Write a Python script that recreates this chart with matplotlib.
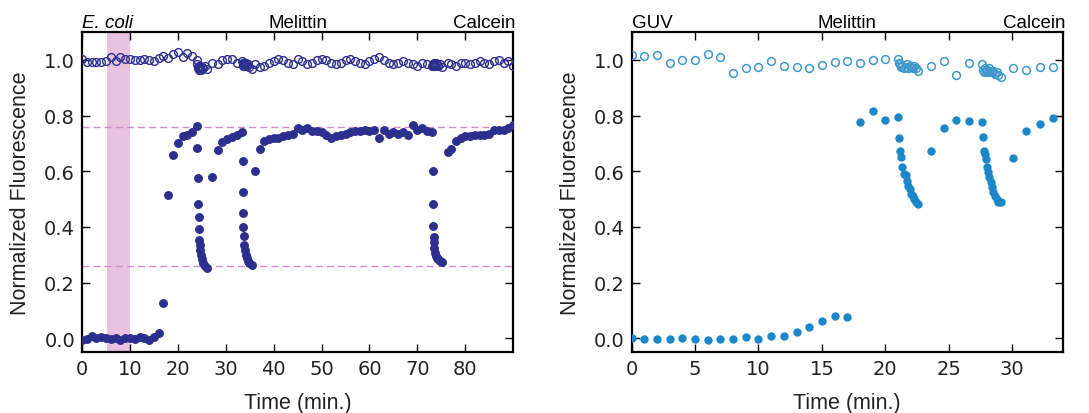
import matplotlib
matplotlib.use("Agg")
import matplotlib.pyplot as plt
import numpy as np

# ---- E. coli panel (left) ----
t_ecoli = [0, 1, 2, 3, 4, 5, 6, 7, 8, 9, 10, 11, 12, 13, 14, 15, 16,
           17, 18, 19, 20, 21, 22, 23, 24,
           24.1, 24.22, 24.3, 24.36, 24.42, 24.5, 24.58, 24.66, 24.8, 25.0, 25.3, 25.65, 26.05,
           27.2, 28.3, 29.3, 30.3, 31.3, 32.3, 33.3,
           33.5, 33.55, 33.62, 33.7, 33.78, 33.88, 34.0, 34.15, 34.35, 34.6, 34.95, 35.4,
           36.1, 37.1, 38, 39, 40, 41, 42, 43, 44, 45, 46, 47, 48, 49, 50, 51, 52, 53, 54, 55,
           56, 57, 58, 59, 60, 61, 62, 63, 64, 65, 66, 67, 68, 69, 70, 71, 72, 73,
           73.2, 73.25, 73.3, 73.38, 73.46, 73.55, 73.66, 73.8, 74.0, 74.3, 74.7, 75.2,
           76.4, 77.0, 78.1, 79.1, 80, 81, 82, 83, 84, 85, 86, 87, 88, 89, 90]

calcein_ecoli = [-0.005, -0.003, 0.008, 0.0, 0.003, 0.0, -0.004, 0.0, -0.005, 0.002, 0.0, -0.003, 0.004, 0.0, -0.005, 0.006, 0.018,
                 0.125, 0.515, 0.658, 0.70, 0.728, 0.73, 0.74, 0.764,
                 0.685, 0.576, 0.483, 0.435, 0.393, 0.353, 0.335, 0.317, 0.299, 0.284, 0.272, 0.26, 0.253,
                 0.58, 0.677, 0.706, 0.715, 0.722, 0.73, 0.742,
                 0.636, 0.527, 0.45, 0.40, 0.366, 0.336, 0.317, 0.299, 0.287, 0.277, 0.27, 0.264,
                 0.60, 0.68, 0.71, 0.715, 0.72, 0.72, 0.725, 0.73, 0.735, 0.755, 0.75, 0.755, 0.745, 0.745, 0.74, 0.73, 0.72, 0.725, 0.73, 0.735,
                 0.74, 0.745, 0.745, 0.75, 0.745, 0.75, 0.72, 0.75, 0.735, 0.74, 0.735, 0.74, 0.73, 0.765, 0.75, 0.755, 0.745, 0.74,
                 0.60, 0.483, 0.405, 0.362, 0.345, 0.326, 0.308, 0.296, 0.29, 0.283, 0.278, 0.275,
                 0.67, 0.68, 0.71, 0.72, 0.725, 0.725, 0.73, 0.73, 0.73, 0.735, 0.75, 0.75, 0.75, 0.755, 0.765]

melittin_ecoli = [1.002, 0.993, 0.993, 0.994, 0.993, 0.996, 1.01, 0.995, 1.01, 1.003, 1.002, 1.0, 1.0, 1.004, 1.0, 0.996, 1.006,
                  1.015, 1.008, 1.02, 1.03, 1.01, 1.025, 1.015, 1.0,
                  0.985, 0.975, 0.97, 0.98, 0.965, 0.975, 0.97, 0.98, 0.965, 0.975, 0.97, 0.98, 0.968,
                  0.99, 0.985, 1.0, 1.005, 1.003, 0.99, 0.995,
                  0.985, 0.99, 0.98, 0.985, 0.99, 0.978, 0.985, 0.99, 0.98, 0.985, 0.975, 0.968,
                  0.985, 0.975, 0.98, 0.99, 0.995, 1.005, 1.0, 0.99, 0.985, 1.005, 0.995, 0.985, 0.99, 1.0, 1.005, 1.0, 0.99, 0.985, 0.99, 1.0,
                  1.005, 0.995, 0.99, 0.985, 0.995, 1.005, 1.01, 1.0, 0.99, 0.985, 0.99, 0.995, 0.99, 0.985, 0.98, 0.99, 0.985, 0.98,
                  0.985, 0.98, 0.985, 0.99, 0.98, 0.985, 0.978, 0.99, 0.985, 0.98, 0.985, 0.975,
                  0.99, 0.985, 0.98, 0.99, 0.99, 0.985, 0.99, 0.995, 0.99, 0.985, 0.995, 1.0, 0.99, 0.995, 0.98]

band_ecoli = (5.2, 10.1)
level_lines = [0.76, 0.26]

# ---- GUV panel (right) ----
t_guv = [0, 1, 2, 3, 4, 5, 6, 7, 8, 9, 10, 11, 12, 13, 14, 15, 16, 17, 18, 19, 20, 21,
         21.08, 21.13, 21.2, 21.33, 21.44, 21.64, 21.72, 21.82, 21.92, 22.03, 22.15, 22.28, 22.41, 22.54,
         23.6, 24.6, 25.6, 26.6, 27.6,
         27.68, 27.78, 27.85, 27.93, 28.0, 28.1, 28.2, 28.3, 28.4, 28.53, 28.67, 28.77, 28.9, 29.1,
         30.1, 31.1, 32.2, 33.2]

calcein_guv = [0.0, -0.003, -0.002, -0.002, 0.0, -0.001, -0.005, -0.004, -0.002, 0.003, -0.001, 0.008, 0.008, 0.022,
               0.04, 0.063, 0.079, 0.078, 0.776, 0.816, 0.785, 0.795,
               0.719, 0.672, 0.65, 0.617, 0.59, 0.586, 0.566, 0.548, 0.536, 0.52, 0.512, 0.502, 0.49, 0.482,
               0.672, 0.755, 0.785, 0.78, 0.778,
               0.724, 0.674, 0.662, 0.644, 0.617, 0.598, 0.578, 0.56, 0.542, 0.526, 0.512, 0.5, 0.49, 0.49,
               0.647, 0.745, 0.77, 0.79]

melittin_guv = [1.018, 1.013, 1.016, 0.99, 1.0, 1.0, 1.02, 1.01, 0.952, 0.97, 0.976, 0.998, 0.98, 0.976,
                0.97, 0.982, 0.992, 0.998, 0.99, 1.001, 1.004, 1.004,
                0.99, 0.985, 0.975, 0.98, 0.97, 0.975, 0.985, 0.97, 0.98, 0.975, 0.97, 0.978, 0.972, 0.962,
                0.98, 0.995, 0.946, 0.99, 0.987,
                0.965, 0.955, 0.97, 0.96, 0.965, 0.958, 0.97, 0.962, 0.955, 0.96, 0.95, 0.958, 0.945, 0.94,
                0.97, 0.965, 0.975, 0.976]

navy = '#2d2f8f'
blue = '#1b87c9'
blue_light = '#3f98cc'

plt.rcParams['font.family'] = 'DejaVu Sans'
fig = plt.figure(figsize=(10.89, 4.14), dpi=100)
ax1 = fig.add_axes([0.0753, 0.147, 0.396, 0.773])
ax2 = fig.add_axes([0.580, 0.147, 0.396, 0.773])

# left
ax1.axvspan(band_ecoli[0], band_ecoli[1], color='#e8c2de', lw=0, zorder=0)
for lv in level_lines:
    ax1.axhline(lv, color='#d08ccb', lw=1, ls=(0, (5, 3)), zorder=1)
ax1.plot(t_ecoli, melittin_ecoli, 'o', ms=5.6, mfc='none', mec=navy, mew=1.0, zorder=3)
ax1.plot(t_ecoli, calcein_ecoli, 'o', ms=5.4, color=navy, mec=navy, zorder=3)
ax1.set_xlim(0, 90)
ax1.set_xticks(np.arange(0, 90, 10))

# right
ax2.plot(t_guv, melittin_guv, 'o', ms=5.6, mfc='none', mec=blue_light, mew=1.1, zorder=3)
ax2.plot(t_guv, calcein_guv, 'o', ms=5.0, color=blue, mec=blue, zorder=3)
ax2.set_xlim(0, 34)
ax2.set_xticks(np.arange(0, 35, 5))

lab_font = dict(family='Liberation Sans', size=15.5)
tops = [(ax1, 'E. coli', 'italic'), (ax2, 'GUV', 'normal')]
for ax, first, style in tops:
    ax.set_ylim(-0.05, 1.1)
    ax.set_yticks([0.0, 0.2, 0.4, 0.6, 0.8, 1.0])
    ax.tick_params(direction='in', top=True, right=True, length=6, width=1, labelsize=14,
                   labelcolor='#222222', pad=5)
    for sp in ax.spines.values():
        sp.set_linewidth(1.6)
    ax.set_xlabel('Time (min.)', fontdict=lab_font, color='#222222')
    ax.set_ylabel('Normalized Fluorescence', fontdict=lab_font, color='#222222')
    ax.yaxis.set_label_coords(-0.118, 0.5)
    ax.xaxis.set_label_coords(0.5, -0.125)
    ax.text(0.0, 1.016, first, transform=ax.transAxes, ha='left', va='baseline',
            family='Liberation Sans', size=13.5, style=style)
    ax.text(0.5, 1.016, 'Melittin', transform=ax.transAxes, ha='center', va='baseline',
            family='Liberation Sans', size=13.5)
    ax.text(1.005, 1.016, 'Calcein', transform=ax.transAxes, ha='right', va='baseline',
            family='Liberation Sans', size=13.5)

fig.savefig('out.png', dpi=100)
